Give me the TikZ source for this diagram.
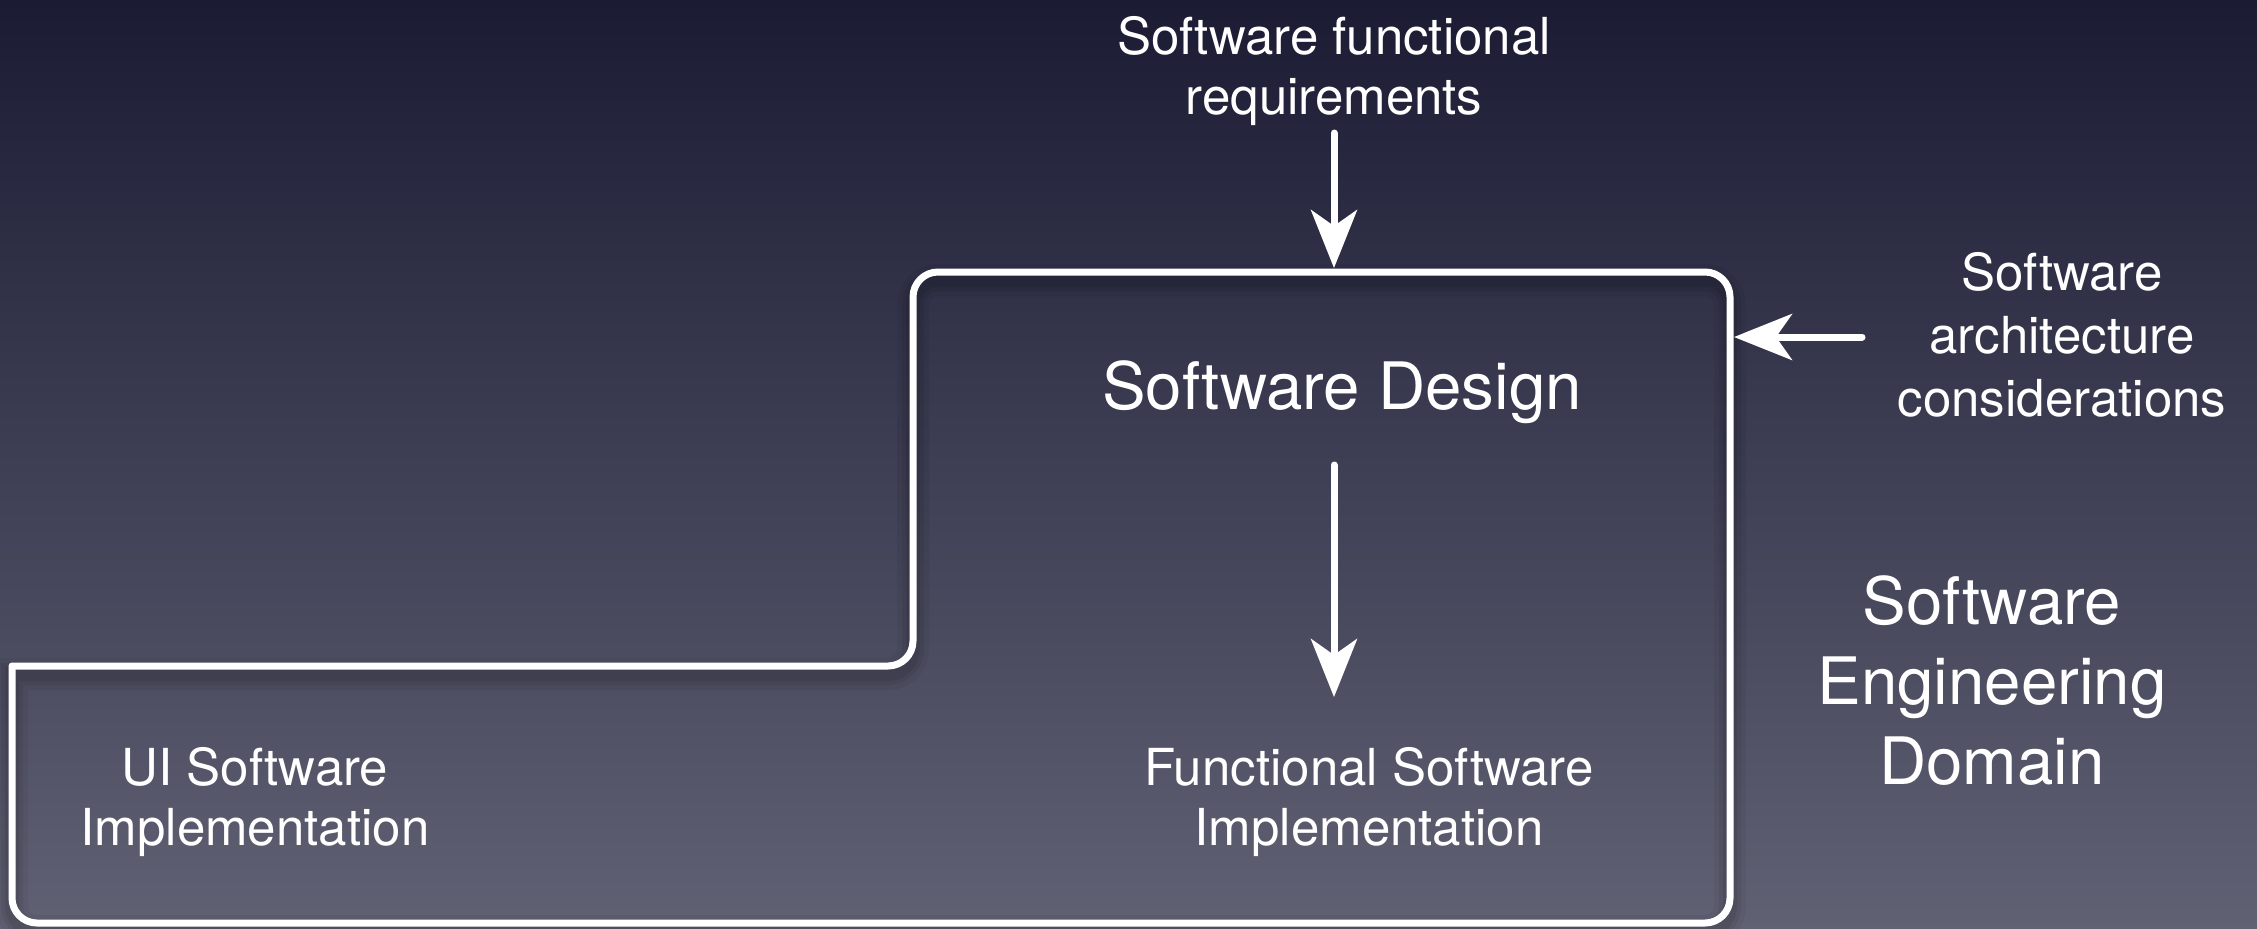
\documentclass[tikz,border=0pt]{standalone}
\usepackage{fontspec}
\setmainfont{TeX Gyre Heros}
\usetikzlibrary{arrows.meta}
\definecolor{bgtop}{RGB}{27,27,52}
\definecolor{bgbot}{RGB}{97,97,116}
\begin{document}
\begin{tikzpicture}[x=0.5pt,y=-0.5pt,
  lbl/.style={text=white,font=\fontsize{25.5pt}{31pt}\selectfont,inner sep=0pt,anchor=base},
  big/.style={text=white,font=\fontsize{32.7pt}{40pt}\selectfont,inner sep=0pt,anchor=base},
  arr/.style={draw=white,line width=3.5pt,-{Stealth[length=29pt,width=23pt,inset=8pt]}},
  outline/.style={rounded corners=12.5pt,insert path={(400,666) -- (913,666) -- (913,272) -- (1730,272) -- (1730,923) -- (12,923) [sharp corners] -- (12,666) -- cycle}},
  boxline/.style={draw=white,line width=3.5pt,line join=round}]
  % background
  \fill[top color=bgtop,bottom color=bgbot] (0,0) rectangle (2257,928);
  \useasboundingbox (0,0) rectangle (2257,928);
  % soft shadow under the domain outline
  \foreach \w/\o in {16pt/0.05,11pt/0.06,7pt/0.08}{
    \draw[black,opacity=\o,line width=\w,yshift=-4pt,outline];
  }
  % domain outline
  \draw[boxline,outline];

  % texts
  \node[lbl] (req1) at (1334,54) {Software functional};
  \node[lbl] (req2) at (1334,114) {requirements};
  \node[big] (design) at (1342,409) {Software Design};
  \node[lbl] (arch1) at (2062,290) {Software};
  \node[lbl] (arch2) at (2062,353) {architecture};
  \node[lbl] (arch3) at (2062,416) {considerations};
  \node[big] (dom1) at (1992,624) {Software};
  \node[big] (dom2) at (1992,704) {Engineering};
  \node[big] (dom3) at (1992,784) {Domain};
  \node[lbl] (fun1) at (1369,785) {Functional Software};
  \node[lbl] (fun2) at (1369,845) {Implementation};
  \node[lbl] (ui1) at (255,785) {UI Software};
  \node[lbl] (ui2) at (255,845) {Implementation};

  % connector end points
  \coordinate (reqOut) at (1334,133);
  \coordinate (designTop) at (1334,268);
  \coordinate (designOut) at (1334,465);
  \coordinate (funIn) at (1334,697);
  \coordinate (archOut) at (1862,337);
  \coordinate (designRight) at (1734,337);

  \draw[arr,line cap=round] (reqOut) -- (designTop);
  \draw[arr,line cap=round] (designOut) -- (funIn);
  \draw[arr,line cap=round] (archOut) -- (designRight);
\end{tikzpicture}
\end{document}
